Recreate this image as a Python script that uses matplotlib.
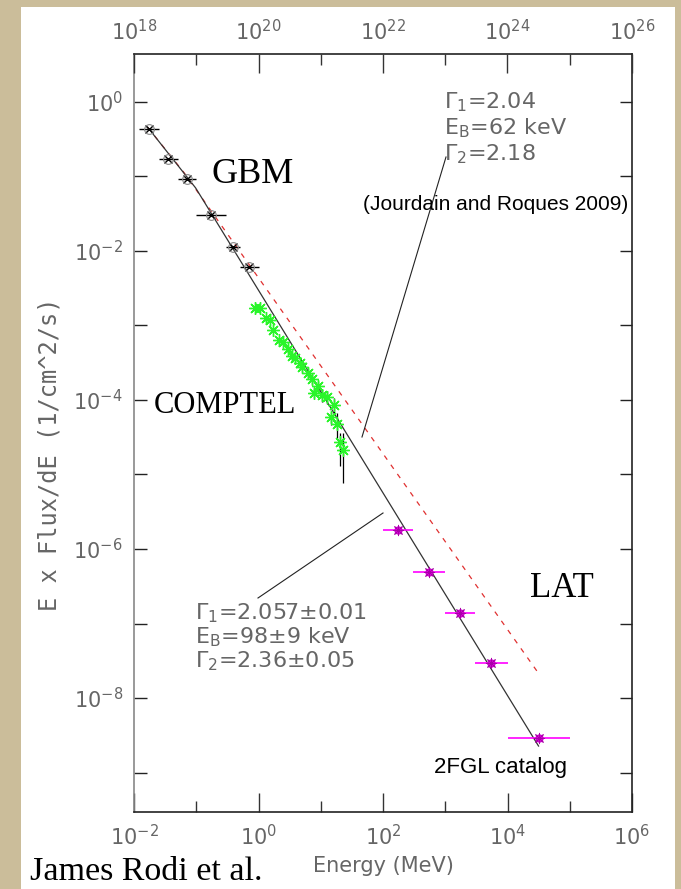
import numpy as np
import matplotlib
matplotlib.use("Agg")
import matplotlib.pyplot as plt
from matplotlib.patches import Rectangle
from matplotlib.ticker import FixedLocator, FuncFormatter, NullFormatter

W, H, DPI = 681, 889, 100

# ---- GBM (energy bins in MeV) ----
gbm_e = [0.0173, 0.0354, 0.0707, 0.173, 0.387, 0.707]
gbm_elo = [0.012, 0.025, 0.050, 0.100, 0.300, 0.500]
gbm_ehi = [0.025, 0.050, 0.100, 0.300, 0.500, 1.000]
gbm_f = [0.434, 0.172, 0.0925, 0.0304, 0.0113, 0.0061]

# ---- COMPTEL ----
comptel_e = [0.88, 1.06, 1.32, 1.53, 1.71, 2.13, 2.47, 2.98, 3.45, 3.86, 4.64, 5.00,
             6.24, 7.23, 9.03, 7.80, 10.5, 12.6, 16.3, 14.6, 18.2, 20.4, 22.8]
comptel_f = [1.72e-3, 1.72e-3, 1.26e-3, 1.19e-3, 8.7e-4, 6.4e-4, 6.0e-4, 4.84e-4, 3.90e-4,
             3.66e-4, 3.14e-4, 2.77e-4, 2.30e-4, 1.91e-4, 1.54e-4, 1.24e-4, 1.17e-4,
             1.10e-4, 8.6e-5, 5.9e-5, 4.8e-5, 2.73e-5, 2.13e-5]
comptel_flo = [1.6e-3, 1.6e-3, 1.18e-3, 1.11e-3, 8.1e-4, 5.9e-4, 5.5e-4, 4.4e-4, 3.55e-4,
               3.3e-4, 2.8e-4, 2.45e-4, 2.0e-4, 1.65e-4, 1.3e-4, 1.05e-4, 9.5e-5,
               8.8e-5, 6.6e-5, 4.6e-5, 3.0e-5, 1.3e-5, 7.7e-6]
comptel_fhi = [1.84e-3, 1.84e-3, 1.34e-3, 1.27e-3, 9.3e-4, 6.9e-4, 6.5e-4, 5.3e-4, 4.25e-4,
               4.0e-4, 3.5e-4, 3.1e-4, 2.6e-4, 2.2e-4, 1.8e-4, 1.45e-4, 1.4e-4,
               1.32e-4, 1.05e-4, 7.0e-5, 6.6e-5, 3.6e-5, 3.6e-5]

# ---- Fermi LAT, 2FGL bands ----
lat_e = [173, 548, 1732, 5477, 31623]
lat_elo = [100, 300, 1000, 3000, 10000]
lat_ehi = [300, 1000, 3000, 10000, 100000]
lat_f = [1.8e-6, 4.9e-7, 1.38e-7, 2.95e-8, 2.9e-9]

# ---- broken power-law models ----
fit_gamma1, fit_eb, fit_gamma2, fit_norm = 2.057, 0.098, 2.36, 0.070
fit_emin, fit_emax = 0.0165, 3.15e4
jr_gamma1, jr_eb, jr_gamma2, jr_norm = 2.04, 0.062, 2.18, 0.116
jr_emin, jr_emax = 0.0165, 3.2e4

x_ticks = [1e-2, 1e0, 1e2, 1e4, 1e6]
x_minor = [1e-1, 1e1, 1e3, 1e5]
top_ticks = [1e18, 1e20, 1e22, 1e24, 1e26]
top_minor = [1e19, 1e21, 1e23, 1e25]
y_ticks = [1e-8, 1e-6, 1e-4, 1e-2, 1e0]
y_minor = [1e-9, 1e-7, 1e-5, 1e-3, 1e-1]


def broken_pl(e, g1, eb, g2, norm):
    e = np.asarray(e)
    return np.where(e < eb, norm * (e / eb) ** (1 - g1), norm * (e / eb) ** (1 - g2))


GRAY = "#666666"
plt.rcParams["mathtext.fontset"] = "dejavusans"
THIN = dict(family=["DejaVu Sans"], weight="normal")

fig = plt.figure(figsize=(W / DPI, H / DPI), dpi=DPI)
fig.patch.set_facecolor("#cbbd9a")
fig.patches.append(Rectangle((21 / W, 0), (675 - 21) / W, (H - 7) / H,
                             transform=fig.transFigure, facecolor="white",
                             edgecolor="none", zorder=-10))


def px(x, y):
    return x / W, 1 - y / H


ax = fig.add_axes([134 / W, 1 - 812 / H, (632 - 134) / W, (812 - 54) / H])
ax.set_xscale("log")
ax.set_yscale("log")
ax.set_xlim(1e-2, 1e6)
ax.set_ylim(10 ** -9.530, 10 ** 0.644)

# models
e_fit = np.geomspace(fit_emin, fit_emax, 400)
ax.plot(e_fit, broken_pl(e_fit, fit_gamma1, fit_eb, fit_gamma2, fit_norm),
        color="#333333", lw=0.9, zorder=3)
e_jr = np.geomspace(jr_emin, jr_emax, 400)
ax.plot(e_jr, broken_pl(e_jr, jr_gamma1, jr_eb, jr_gamma2, jr_norm),
        color="#e03030", lw=0.9, ls=(0, (4, 5)), zorder=2)

# GBM
gbm_xerr = [np.subtract(gbm_e, gbm_elo), np.subtract(gbm_ehi, gbm_e)]
ax.errorbar(gbm_e, gbm_f, xerr=gbm_xerr, fmt="none", ecolor="black", elinewidth=1.0, zorder=4)
ax.plot(gbm_e, gbm_f, ls="none", marker="x", ms=6, mec="black", mew=1.0, zorder=5)
ax.plot(gbm_e, gbm_f, ls="none", marker="o", ms=7, mfc="none", mec="#888888", mew=0.8, zorder=5)

# COMPTEL
c_yerr = [np.subtract(comptel_f, comptel_flo), np.subtract(comptel_fhi, comptel_f)]
ax.errorbar(comptel_e, comptel_f, yerr=c_yerr, fmt="none", ecolor="black", elinewidth=0.9, zorder=4)
ax.plot(comptel_e, comptel_f, ls="none", marker=(8, 2, 0), ms=9, mec="#2af52a", mew=1.0, zorder=5)

# LAT
lat_xerr = [np.subtract(lat_e, lat_elo), np.subtract(lat_ehi, lat_e)]
ax.errorbar(lat_e, lat_f, xerr=lat_xerr, fmt="none", ecolor="#ff00ff", elinewidth=1.2, zorder=4)
ax.plot(lat_e, lat_f, ls="none", marker="o", ms=5, mfc="#ff00ff", mec="#cc00cc", zorder=5)
ax.plot(lat_e, lat_f, ls="none", marker=(8, 2, 0), ms=8, mec="#aa00aa", mew=0.7, zorder=6)

# axes styling
for side in ["top", "right", "bottom"]:
    ax.spines[side].set_color("#222222")
ax.spines["left"].set_color("#888888")
for sp in ax.spines.values():
    sp.set_linewidth(1.2)

dec_fmt = FuncFormatter(lambda v, p: r"$\mathregular{10^{%d}}$" % int(round(np.log10(v))))
ax.xaxis.set_major_locator(FixedLocator(x_ticks))
ax.xaxis.set_minor_locator(FixedLocator(x_minor))
ax.xaxis.set_major_formatter(dec_fmt)
ax.xaxis.set_minor_formatter(NullFormatter())
ax.yaxis.set_major_locator(FixedLocator(y_ticks))
ax.yaxis.set_minor_locator(FixedLocator(y_minor))
ax.yaxis.set_major_formatter(dec_fmt)
ax.yaxis.set_minor_formatter(NullFormatter())
ax.tick_params(axis="x", which="major", direction="in", length=14, width=1, color="#333333",
               labelsize=15, labelcolor=GRAY, pad=9)
ax.tick_params(axis="x", which="minor", direction="in", length=8, width=1, color="#333333")
ax.tick_params(axis="y", which="both", direction="in", length=9, width=1, color="#222222",
               right=True, labelsize=15, labelcolor=GRAY, pad=8)
for lab in ax.get_xticklabels() + ax.get_yticklabels():
    lab.set_fontfamily(THIN["family"])

top = ax.twiny()
top.set_xscale("log")
top.set_xlim(1e18, 1e26)
top.xaxis.set_major_locator(FixedLocator(top_ticks))
top.xaxis.set_minor_locator(FixedLocator(top_minor))
top.xaxis.set_major_formatter(dec_fmt)
top.xaxis.set_minor_formatter(NullFormatter())
top.tick_params(axis="x", which="major", direction="in", length=14, width=1, color="#333333",
                labelsize=15, labelcolor=GRAY, pad=7)
top.tick_params(axis="x", which="minor", direction="in", length=8, width=1, color="#333333")
for lab in top.get_xticklabels():
    lab.set_fontfamily(THIN["family"])
for sp in top.spines.values():
    sp.set_visible(False)

# axis titles
fig.text(*px(383, 866), "Energy (MeV)", color=GRAY, fontsize=15, ha="center", va="center", **THIN)
fig.text(*px(50, 454), "E x Flux/dE (1/cm^2/s)", color=GRAY, fontsize=17, rotation=90,
         ha="center", va="center", family="DejaVu Sans Mono")

# instrument labels
serif = ["Liberation Serif", "DejaVu Serif"]
sans = ["Liberation Sans", "DejaVu Sans"]
fig.text(*px(212, 183), "GBM", family=serif, fontsize=26, va="baseline")
fig.text(*px(154, 413), "COMPTEL", family=serif, fontsize=22, va="baseline")
fig.text(*px(530, 597), "LAT", family=serif, fontsize=25, va="baseline")
fig.text(*px(434, 773), "2FGL catalog", family=sans, fontsize=16, va="baseline")
fig.text(*px(363, 210), "(Jourdain and Roques 2009)", family=sans, fontsize=15, va="baseline")
fig.text(*px(30, 880), "James Rodi et al.", family=serif, fontsize=24.5, va="baseline")

# fit parameter blocks
upper = [r"Γ$\mathregular{_1}$=2.04", r"E$\mathregular{_B}$=62 keV", r"Γ$\mathregular{_2}$=2.18"]
for i, s in enumerate(upper):
    fig.text(*px(444, 108 + 26 * i), s, color=GRAY, fontsize=16, va="baseline", **THIN)
lower = [r"Γ$\mathregular{_1}$=2.057±0.01", r"E$\mathregular{_B}$=98±9 keV",
         r"Γ$\mathregular{_2}$=2.36±0.05"]
for i, s in enumerate(lower):
    fig.text(*px(195, 619 + 24 * i), s, color=GRAY, fontsize=16, va="baseline", **THIN)

# pointer lines
fig.add_artist(plt.Line2D([446 / W, 362 / W], [1 - 157 / H, 1 - 437 / H],
                          transform=fig.transFigure, color="#222222", lw=0.8))
fig.add_artist(plt.Line2D([258 / W, 383 / W], [1 - 598 / H, 1 - 513 / H],
                          transform=fig.transFigure, color="#222222", lw=0.8))

fig.savefig("out.png", dpi=DPI, facecolor=fig.get_facecolor())
